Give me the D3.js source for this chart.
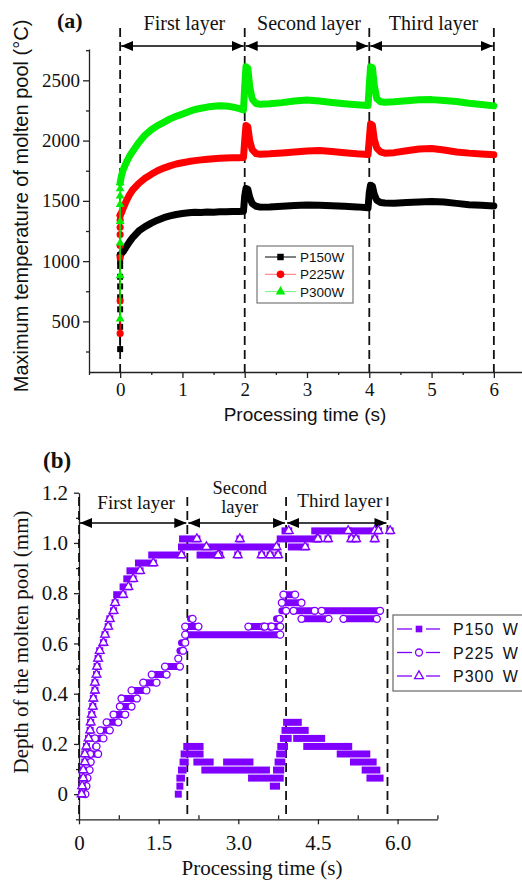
<!DOCTYPE html>
<html lang="en">
<head>
<meta charset="UTF-8">
<title>molten pool</title>
<style>
  body { margin: 0; background: #fff; }
  svg { display: block; background: #fff; }
  .axis path, .axis line { stroke: #222; stroke-width: 1.3px; }
  .axis text { font-family: "Liberation Serif", "Times New Roman", serif; fill: #111; }
  .serif { font-family: "Liberation Serif", "Times New Roman", serif; fill: #111; }
  .sans { font-family: "Liberation Sans", Arial, sans-serif; fill: #111; }
</style>
</head>
<body>
<div class="content"></div>
<script src="https://cdn.jsdelivr.net/npm/d3@7/dist/d3.min.js"></script>
<script>
// ---- (a) maximum temperature of molten pool ----
var timeA = [0, 0.02, 0.05, 0.1, 0.15, 0.2, 0.3, 0.4, 0.5, 0.6, 0.7, 0.8, 0.9, 1.0, 1.1, 1.2, 1.3, 1.4, 1.5, 1.6, 1.7, 1.8, 1.9, 1.98,
  2.0, 2.02, 2.05, 2.08, 2.12, 2.18, 2.25, 2.4, 2.6, 2.8, 3.0, 3.2, 3.4, 3.6, 3.8, 3.98,
  4.0, 4.02, 4.05, 4.08, 4.12, 4.18, 4.25, 4.4, 4.6, 4.8, 5.0, 5.2, 5.4, 5.6, 5.8, 6.0];
var tempP150 = [1050, 1062, 1080, 1120, 1160, 1195, 1250, 1286, 1315, 1340, 1360, 1375, 1387, 1395, 1401, 1406, 1404, 1408, 1406, 1410, 1409, 1412, 1411, 1414,
  1540, 1602, 1596, 1530, 1478, 1455, 1448, 1450, 1456, 1462, 1466, 1464, 1460, 1455, 1450, 1442,
  1570, 1630, 1622, 1555, 1505, 1486, 1482, 1481, 1486, 1491, 1494, 1490, 1479, 1468, 1463, 1458];
var tempP225 = [1380, 1400, 1440, 1500, 1550, 1590, 1645, 1687, 1720, 1750, 1772, 1790, 1806, 1816, 1826, 1834, 1840, 1846, 1850, 1853, 1855, 1857, 1858, 1860,
  2000, 2125, 2115, 2000, 1925, 1893, 1886, 1890, 1898, 1906, 1914, 1918, 1910, 1900, 1890, 1884,
  2010, 2138, 2128, 2010, 1938, 1906, 1896, 1900, 1916, 1930, 1934, 1922, 1906, 1896, 1889, 1882];
var tempP300 = [1650, 1705, 1760, 1820, 1870, 1910, 1985, 2046, 2090, 2125, 2152, 2180, 2202, 2220, 2240, 2258, 2268, 2278, 2285, 2290, 2287, 2280, 2268, 2255,
  2450, 2612, 2600, 2450, 2345, 2308, 2302, 2306, 2315, 2328, 2336, 2328, 2316, 2306, 2298, 2292,
  2460, 2612, 2605, 2460, 2348, 2322, 2318, 2322, 2330, 2338, 2340, 2332, 2324, 2310, 2300, 2288];
// points stacked at t = 0 (heating start)
var riseP150 = [270, 455, 600, 700, 790, 870, 960, 1000, 1050];
var riseP225 = [400, 670, 1030, 1130, 1220, 1280, 1340, 1380];
var riseP300 = [520, 880, 1150, 1330, 1470, 1540, 1600, 1650];
var seriesA = ["P150W", "P225W", "P300W"];
var layersA = [0, 2, 4, 6];
var layerNames = ["First layer", "Second layer", "Third layer"];
var xTicksA = [0, 1, 2, 3, 4, 5, 6];
var yTicksA = [500, 1000, 1500, 2000, 2500];

// ---- (b) depth of the molten pool: [t start, t end, depth] ----
var seriesB = ["P150 W", "P225 W", "P300 W"];
var runsP150 = [
  [1.87, 1.87, 0.000], [1.90, 1.90, 0.032], [1.90, 1.93, 0.064], [1.93, 1.96, 0.096], [1.96, 2.00, 0.128],
  [1.98, 2.28, 0.160], [2.03, 2.28, 0.190], [2.22, 2.47, 0.128], [2.37, 3.53, 0.096], [2.78, 3.22, 0.128],
  [3.25, 3.79, 0.064], [3.66, 3.72, 0.032], [3.72, 3.80, 0.096], [3.75, 3.82, 0.128], [3.78, 3.84, 0.160],
  [3.80, 3.87, 0.190], [3.85, 3.94, 0.222], [3.88, 4.26, 0.254], [3.91, 4.13, 0.286], [4.10, 4.57, 0.222],
  [4.29, 5.01, 0.190], [5.05, 5.08, 0.190], [4.92, 5.42, 0.160], [5.17, 5.54, 0.128], [5.39, 5.61, 0.096],
  [5.48, 5.67, 0.064]];
var runsP225 = [
  [0.12, 0.12, 0.000], [0.14, 0.14, 0.032], [0.16, 0.16, 0.064], [0.20, 0.20, 0.096], [0.22, 0.22, 0.128],
  [0.21, 0.36, 0.160], [0.31, 0.33, 0.190], [0.30, 0.46, 0.222], [0.40, 0.58, 0.254], [0.52, 0.74, 0.286],
  [0.65, 0.87, 0.317], [0.77, 0.99, 0.349], [0.80, 1.09, 0.381], [0.99, 1.27, 0.413], [1.21, 1.46, 0.444],
  [1.37, 1.65, 0.476], [1.62, 1.90, 0.508], [1.87, 1.87, 0.540], [1.90, 1.96, 0.571], [1.93, 2.00, 0.603],
  [2.00, 3.79, 0.635], [2.00, 2.25, 0.667], [3.19, 3.47, 0.667], [3.50, 3.60, 0.667], [3.63, 3.79, 0.667],
  [2.10, 2.14, 0.698], [3.72, 3.78, 0.698], [3.82, 3.90, 0.730], [4.04, 4.44, 0.730], [4.57, 5.67, 0.730],
  [4.19, 4.70, 0.698], [4.98, 5.61, 0.698], [3.82, 4.19, 0.762], [3.85, 4.07, 0.794]];
var runsP300 = [
  [0.05, 0.05, 0.000], [0.06, 0.06, 0.032], [0.08, 0.08, 0.064], [0.08, 0.08, 0.096], [0.11, 0.11, 0.128],
  [0.11, 0.11, 0.160], [0.14, 0.14, 0.190], [0.18, 0.18, 0.222], [0.21, 0.21, 0.254], [0.22, 0.22, 0.286],
  [0.24, 0.24, 0.317], [0.26, 0.26, 0.349], [0.27, 0.27, 0.381], [0.30, 0.30, 0.413], [0.30, 0.30, 0.444],
  [0.33, 0.33, 0.476], [0.34, 0.34, 0.508], [0.36, 0.36, 0.540], [0.39, 0.39, 0.571], [0.46, 0.46, 0.603],
  [0.49, 0.49, 0.635], [0.55, 0.55, 0.667], [0.58, 0.58, 0.698], [0.65, 0.65, 0.730], [0.68, 0.68, 0.762],
  [0.71, 0.83, 0.794], [0.83, 0.93, 0.825], [0.90, 1.02, 0.857], [0.96, 1.15, 0.889], [1.12, 1.40, 0.920],
  [1.37, 1.93, 0.952], [1.93, 2.40, 0.984], [1.95, 2.22, 1.016], [2.28, 2.65, 0.952], [2.53, 3.72, 0.984],
  [3.03, 3.03, 1.016], [2.62, 2.62, 0.952], [2.99, 2.99, 0.952], [3.44, 3.44, 0.952], [3.60, 3.60, 0.952],
  [3.75, 3.75, 0.952], [3.79, 4.48, 1.016], [3.88, 3.95, 1.048], [4.00, 4.26, 0.984], [4.50, 4.50, 1.016],
  [4.69, 4.69, 1.016], [5.13, 5.13, 1.016], [5.22, 5.22, 1.016], [5.57, 5.57, 1.016], [4.44, 5.07, 1.048],
  [5.14, 5.57, 1.048], [5.64, 5.64, 1.048], [5.86, 5.86, 1.048]];
var layersB = [0, 2.04, 3.90, 5.81];
var xTicksB = [0, 1.5, 3.0, 4.5, 6.0];
var yTicksB = [0, 0.2, 0.4, 0.6, 0.8, 1.0, 1.2];

var colorsA = ["#000000", "#ff0000", "#00ee00"];
var purple = "#8000ff";

var svg = d3.select(".content").append("svg")
  .attr("width", 522)
  .attr("height", 881);

var defs = svg.append("defs");
defs.append("marker")
  .attr("id", "arrow")
  .attr("viewBox", "0 0 12 10")
  .attr("refX", 12)
  .attr("refY", 5)
  .attr("markerWidth", 12)
  .attr("markerHeight", 10)
  .attr("markerUnits", "userSpaceOnUse")
  .attr("orient", "auto-start-reverse")
  .append("path")
  .attr("d", "M0,0L12,5L0,10Z")
  .attr("fill", "#000");

function layerGuides(g, x, layers, yTop, yBottom, yArrow) {
  g.selectAll(".dash").data(layers).enter().append("line")
    .attr("x1", function (d) { return x(d); })
    .attr("x2", function (d) { return x(d); })
    .attr("y1", yTop).attr("y2", yBottom)
    .attr("stroke", "#111").attr("stroke-width", 1.8)
    .attr("stroke-dasharray", "9,5");
  g.selectAll(".arr").data(d3.pairs(layers)).enter().append("line")
    .attr("x1", function (d) { return x(d[0]) + 1; })
    .attr("x2", function (d) { return x(d[1]) - 1; })
    .attr("y1", yArrow).attr("y2", yArrow)
    .attr("stroke", "#000").attr("stroke-width", 1.5)
    .attr("marker-start", "url(#arrow)")
    .attr("marker-end", "url(#arrow)");
}

// ================= panel (a) =================
var xA = d3.scaleLinear().domain([-0.5, 6.5]).range([89, 525]);
var yA = d3.scaleLinear().domain([80, 2760]).range([372, 49]);
var gA = svg.append("g");

gA.append("g").attr("class", "axis")
  .attr("transform", "translate(0,372)")
  .call(d3.axisBottom(xA).tickValues(xTicksA).tickSize(6).tickSizeOuter(0).tickPadding(5).tickFormat(d3.format("d")))
  .selectAll("text").style("font-size", "19px");
gA.append("g").attr("class", "axis")
  .attr("transform", "translate(0,372)")
  .call(d3.axisBottom(xA).tickValues(d3.range(-0.5, 6.6, 1)).tickSize(3).tickFormat(""))
  .select(".domain").remove();
gA.append("g").attr("class", "axis")
  .attr("transform", "translate(89,0)")
  .call(d3.axisLeft(yA).tickValues(yTicksA).tickSize(6).tickSizeOuter(0).tickPadding(3).tickFormat(d3.format("d")))
  .selectAll("text").style("font-size", "19px");
gA.append("g").attr("class", "axis")
  .attr("transform", "translate(89,0)")
  .call(d3.axisLeft(yA).tickValues(d3.range(250, 2760, 500)).tickSize(3).tickFormat(""))
  .select(".domain").remove();

layerGuides(gA, xA, layersA, 28, 372, 46);

gA.selectAll(".lname").data(layerNames).enter().append("text")
  .attr("class", "serif")
  .attr("x", function (d, i) { return (xA(layersA[i]) + xA(layersA[i + 1])) / 2 + 2; })
  .attr("y", 30)
  .attr("text-anchor", "middle")
  .style("font-size", "20px")
  .text(function (d) { return d; });

gA.append("text").attr("class", "serif")
  .attr("x", 57).attr("y", 28)
  .style("font-size", "22px").style("font-weight", "bold")
  .text("(a)");

gA.append("text").attr("class", "sans")
  .attr("transform", "translate(28,206) rotate(-90)")
  .attr("text-anchor", "middle")
  .style("font-size", "20px")
  .text("Maximum temperature of molten pool (\u00B0C)");
gA.append("text").attr("class", "sans")
  .attr("x", 305).attr("y", 421)
  .attr("text-anchor", "middle")
  .style("font-size", "19px")
  .text("Processing time (s)");

var tempSeries = [tempP150, tempP225, tempP300];
var riseSeries = [riseP150, riseP225, riseP300];
var symA = [d3.symbolSquare, d3.symbolCircle, d3.symbolTriangle];
var symSizeA = [36, 40, 34];

var lineA = d3.line()
  .x(function (d) { return xA(d[0]); })
  .y(function (d) { return yA(d[1]); });

tempSeries.forEach(function (vals, k) {
  var pts = timeA.map(function (t, i) { return [t, vals[i]]; });
  gA.append("path")
    .attr("d", lineA(pts))
    .attr("fill", "none")
    .attr("stroke", colorsA[k])
    .attr("stroke-width", 7)
    .attr("stroke-linejoin", "round")
    .attr("stroke-linecap", "round");
});
riseSeries.forEach(function (vals, k) {
  gA.append("path")
    .attr("d", lineA(vals.map(function (v) { return [0, v]; })))
    .attr("stroke", colorsA[k]).attr("stroke-width", 1.5).attr("fill", "none");
  gA.selectAll(".rise" + k).data(vals).enter().append("path")
    .attr("transform", function (d) { return "translate(" + xA(0) + "," + yA(d) + ")"; })
    .attr("d", d3.symbol().type(symA[k]).size(symSizeA[k]))
    .attr("fill", colorsA[k]);
});

// legend (a)
var legA = gA.append("g").attr("transform", "translate(257,246)");
legA.append("rect").attr("width", 96).attr("height", 57)
  .attr("fill", "#fff").attr("stroke", "#777").attr("stroke-width", 1.2);
seriesA.forEach(function (name, k) {
  var yy = 11 + k * 17.3;
  legA.append("line").attr("x1", 8).attr("x2", 39).attr("y1", yy).attr("y2", yy)
    .attr("stroke", colorsA[k]).attr("stroke-width", 1).attr("stroke-opacity", k ? 0.55 : 1);
  legA.append("path").attr("transform", "translate(23.5," + yy + ")")
    .attr("d", d3.symbol().type(symA[k]).size(symSizeA[k] + 6))
    .attr("fill", colorsA[k]);
  legA.append("text").attr("class", "sans")
    .attr("x", 43).attr("y", yy + 5)
    .style("font-size", "13.5px")
    .text(name);
});

// ================= panel (b) =================
var xB = d3.scaleLinear().domain([0, 6.75]).range([79, 437.4]);
var yB = d3.scaleLinear().domain([-0.1, 1.2]).range([819.3, 492.7]);
var gB = svg.append("g");
var fmtB = function (d) { return d === 0 ? "0" : d.toFixed(1); };

gB.append("g").attr("class", "axis")
  .attr("transform", "translate(0,819.3)")
  .call(d3.axisBottom(xB).tickValues(xTicksB).tickSize(5).tickSizeOuter(0).tickPadding(11).tickFormat(fmtB))
  .selectAll("text").style("font-size", "21px");
gB.append("g").attr("class", "axis")
  .attr("transform", "translate(0,819.3)")
  .call(d3.axisBottom(xB).tickValues(d3.range(0.75, 6.8, 1.5)).tickSize(-4).tickFormat(""))
  .select(".domain").remove();
gB.append("g").attr("class", "axis")
  .attr("transform", "translate(79,0)")
  .call(d3.axisLeft(yB).tickValues(yTicksB).tickSize(5).tickSizeOuter(0).tickPadding(6).tickFormat(fmtB))
  .selectAll("text").style("font-size", "21px");
gB.append("g").attr("class", "axis")
  .attr("transform", "translate(79,0)")
  .call(d3.axisLeft(yB).tickValues(d3.range(-0.1, 1.2, 0.2)).tickSize(3).tickFormat(""))
  .select(".domain").remove();

layerGuides(gB, xB, layersB, 497, 819, 523);

var lnX = layersB.map(function (d) { return xB(d); });
gB.append("text").attr("class", "serif")
  .attr("x", (lnX[0] + lnX[1]) / 2 + 3).attr("y", 509)
  .attr("text-anchor", "middle").style("font-size", "19px").text("First layer");
gB.append("text").attr("class", "serif")
  .attr("x", (lnX[1] + lnX[2]) / 2 + 3).attr("y", 494)
  .attr("text-anchor", "middle").style("font-size", "18.5px").text("Second");
gB.append("text").attr("class", "serif")
  .attr("x", (lnX[1] + lnX[2]) / 2 + 3).attr("y", 513)
  .attr("text-anchor", "middle").style("font-size", "18.5px").text("layer");
gB.append("text").attr("class", "serif")
  .attr("x", (lnX[2] + lnX[3]) / 2 + 3).attr("y", 507)
  .attr("text-anchor", "middle").style("font-size", "19px").text("Third layer");

gB.append("text").attr("class", "serif")
  .attr("x", 43).attr("y", 468)
  .style("font-size", "23px").style("font-weight", "bold")
  .text("(b)");
gB.append("text").attr("class", "serif")
  .attr("transform", "translate(28,642) rotate(-90)")
  .attr("text-anchor", "middle")
  .style("font-size", "21px")
  .text("Depth of the molten pool (mm)");
gB.append("text").attr("class", "serif")
  .attr("x", 262).attr("y", 875)
  .attr("text-anchor", "middle")
  .style("font-size", "21px")
  .text("Processing time (s)");

var runsB = [runsP150, runsP225, runsP300];
var symB = [d3.symbolSquare, d3.symbolCircle, d3.symbolTriangle];
var symSizeB = [44, 38, 34];

runsB.forEach(function (runs, k) {
  var g = gB.append("g");
  g.selectAll("rect").data(runs).enter().append("rect")
    .attr("x", function (d) { return xB(d[0]) - 3.5; })
    .attr("y", function (d) { return yB(d[2]) - 3.5; })
    .attr("width", function (d) { return xB(d[1]) - xB(d[0]) + 7; })
    .attr("height", 7)
    .attr("rx", k === 1 ? 3.5 : 0)
    .attr("fill", purple);
  if (k > 0) {
    var ends = [];
    runs.forEach(function (d) {
      ends.push([d[1], d[2]]);
      if (k === 1 && d[1] - d[0] > 0.1) ends.push([d[0], d[2]]);
    });
    g.selectAll(".mk").data(ends).enter().append("path")
      .attr("transform", function (d) { return "translate(" + xB(d[0]) + "," + yB(d[1]) + ")"; })
      .attr("d", d3.symbol().type(symB[k]).size(symSizeB[k]))
      .attr("fill", "#fff")
      .attr("stroke", purple)
      .attr("stroke-width", 1.3);
  }
});

// legend (b)
var legB = gB.append("g").attr("transform", "translate(393,615)");
legB.append("rect").attr("width", 140).attr("height", 76)
  .attr("fill", "#fff").attr("stroke", "#666").attr("stroke-width", 1.2);
seriesB.forEach(function (name, k) {
  var yy = 14 + k * 23.5;
  legB.append("line").attr("x1", 4).attr("x2", 19).attr("y1", yy).attr("y2", yy)
    .attr("stroke", purple).attr("stroke-width", 1.3);
  legB.append("line").attr("x1", 33).attr("x2", 47).attr("y1", yy).attr("y2", yy)
    .attr("stroke", purple).attr("stroke-width", 1.3);
  legB.append("path").attr("transform", "translate(26," + yy + ")")
    .attr("d", d3.symbol().type(symB[k]).size(symSizeB[k]))
    .attr("fill", k === 0 ? purple : "#fff")
    .attr("stroke", purple).attr("stroke-width", k === 0 ? 0 : 1.3);
  legB.append("text").attr("class", "sans")
    .attr("x", 60).attr("y", yy + 6)
    .style("font-size", "16px")
    .style("letter-spacing", "1px")
    .style("word-spacing", "3px")
    .text(name);
});
</script>
</body>
</html>
